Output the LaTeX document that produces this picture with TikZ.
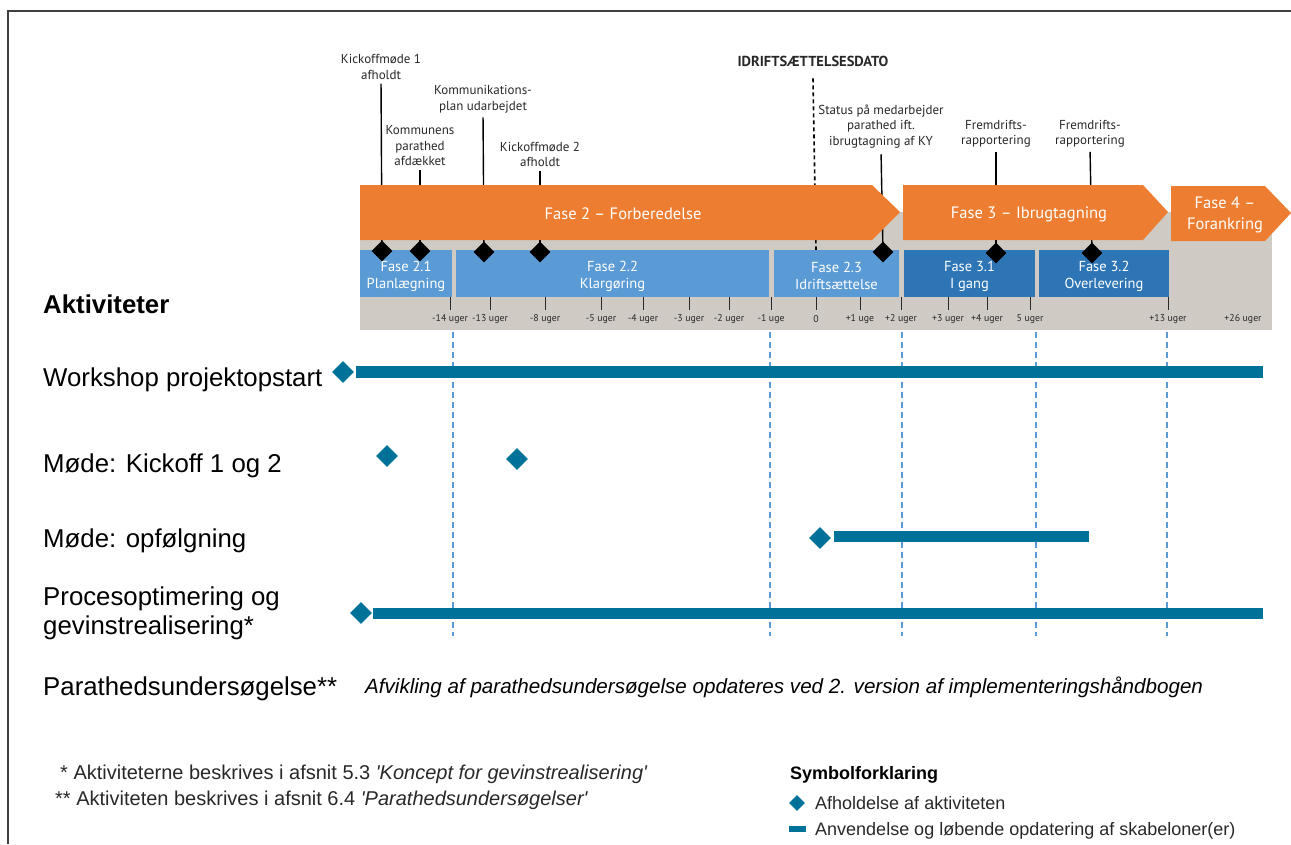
\documentclass[tikz,border=0pt]{standalone}
\usepackage{fontspec}
\setmainfont{Liberation Sans}
\newfontfamily\tlfont{PT Sans}
\usetikzlibrary{shapes.geometric}

\definecolor{phaseorange}{RGB}{237,125,49}
\definecolor{sublight}{RGB}{91,155,213}
\definecolor{subdark}{RGB}{46,117,182}
\definecolor{bandgray}{RGB}{207,202,196}
\definecolor{actcolor}{RGB}{0,114,153}
\definecolor{labelgray}{RGB}{40,40,40}
\definecolor{framegray}{RGB}{64,64,64}
\definecolor{guideblue}{RGB}{91,155,213}

\tikzset{
  phasearrow/.style={fill=phaseorange},
  phasetext/.style={font=\tlfont\fontsize{16.5}{21}\selectfont, text=white, align=center, inner sep=0},
  subbox/.style={fill=#1, minimum height=47pt, inner sep=0},
  subtext/.style={text=white, align=center, inner sep=0, font=\tlfont\fontsize{14.5}{17}\selectfont},
  milestone/.style={diamond, fill=black, inner sep=0, minimum width=21pt, minimum height=21pt},
  msline/.style={draw=black, line width=1.4pt, shorten <=4pt},
  mslabel/.style={font=\tlfont\fontsize{13}{15.5}\selectfont, text=labelgray, align=center, inner sep=0},
  tickmark/.style={draw=labelgray, line width=1pt},
  ticklabel/.style={font=\tlfont\fontsize{9.8}{11}\selectfont, text=labelgray, inner sep=0},
  guide/.style={draw=guideblue, line width=1.2pt, dash pattern=on 6pt off 4pt},
  datemark/.style={draw=black, line width=1.6pt, dash pattern=on 4pt off 3pt},
  actlabel/.style={font=\fontsize{25.8}{29}\selectfont, anchor=base west, align=left, inner sep=0},
  actmark/.style={diamond, fill=actcolor, inner sep=0, minimum width=22pt, minimum height=22pt},
  actbar/.style={fill=actcolor},
  notetext/.style={font=\fontsize{20}{24}\selectfont, anchor=base west, inner sep=0, text=labelgray},
  legendtext/.style={font=\fontsize{18}{22}\selectfont, anchor=base west, inner sep=0, text=labelgray},
}

\begin{document}
\begin{tikzpicture}[x=1pt, y=-1pt]
\useasboundingbox (0,0) rectangle (1291,844);

% frame
\draw[framegray, line width=2pt] (8,844) -- (8,11) -- (1291,11);

% gray timeline band
\fill[bandgray] (360,212) rectangle (1272,330);

% milestone labels
\node[mslabel] (l1) at (381,67) {Kickoffmøde 1\\afholdt};
\node[mslabel] (l2) at (420,146) {Kommunens\\parathed\\afdækket};
\node[mslabel] (l3) at (483,99.5) {Kommunikations-\\plan udarbejdet};
\node[mslabel] (l4) at (540,154.5) {Kickoffmøde 2\\afholdt};
\node[mslabel, font=\tlfont\bfseries\fontsize{14.5}{15}\selectfont] (ld) at (813,61) {IDRIFTSÆTTELSESDATO};
\node[mslabel] (l6) at (996,134) {Fremdrifts-\\rapportering};
\node[mslabel] (l7) at (1090,134) {Fremdrifts-\\rapportering};

% milestone diamonds positions
\coordinate (c1) at (382,251);
\coordinate (c2) at (420,251);
\coordinate (c3) at (484,252);
\coordinate (c4) at (540,252);
\coordinate (c5) at (883,252);
\coordinate (c6) at (996,253);
\coordinate (c7) at (1092,253);
\coordinate (dz) at (816,250);

% date line (behind the status label and the phase arrow)
\draw[datemark] ([yshift=-12pt]ld.south) -- (dz);
\node[mslabel, fill=white, inner sep=2pt] (l5) at (881,126.5) {Status på medarbejder\\parathed ift.\\ibrugtagning af KY};

% connectors from labels to milestones
\draw[msline] (l1.south) -- (c1);
\draw[msline] (l2.south) -- (c2);
\draw[msline] (l3.south) -- (c3);
\draw[msline] (l4.south) -- (c4);
\draw[msline] (l5.south) -- (c5);
\draw[msline] (l6.south) -- (c6);
\draw[msline] (l7.south) -- (c7);

% phase arrows
\fill[phasearrow] (360,185) -- (872,185) -- (900,212) -- (872,240) -- (360,240) -- cycle;
\fill[phasearrow] (903,185) -- (1143,185) -- (1168,212) -- (1143,240) -- (903,240) -- cycle;
\fill[phasearrow] (1171,186) -- (1265,186) -- (1291,213) -- (1265,241) -- (1171,241) -- cycle;
\node[phasetext] (f2) at (623,214) {Fase 2 – Forberedelse};
\node[phasetext] (f3) at (1029,214) {Fase 3 – Ibrugtagning};
\node[phasetext] (f4) at (1225,215) {Fase 4 –\\Forankring};

% sub phases
\node[subbox=sublight, minimum width=92pt]  (p21) at (406,273.5)   {};
\node[subbox=sublight, minimum width=313pt] (p22) at (612.5,273.5) {};
\node[subbox=sublight, minimum width=125pt] (p23) at (836.5,273.5) {};
\node[subbox=subdark,  minimum width=131pt] (p31) at (969.5,273.5) {};
\node[subbox=subdark,  minimum width=130pt] (p32) at (1104,273.5)  {};
\node[subtext] (t21) at ([yshift=-2.5pt]p21.center) {Fase 2.1\\Planlægning};
\node[subtext] (t22) at ([yshift=-2.5pt]p22.center) {Fase 2.2\\Klargøring};
\node[subtext] (t23) at ([yshift=-2.5pt]p23.center) {Fase 2.3\\Idriftsættelse};
\node[subtext] (t31) at ([yshift=-2.5pt]p31.center) {Fase 3.1\\I gang};
\node[subtext] (t32) at ([yshift=-2.5pt]p32.center) {Fase 3.2\\Overlevering};

% milestone diamonds
\foreach \c in {c1,c2,c3,c4,c5,c6,c7} \node[milestone] (m\c) at (\c) {};

% week scale
\foreach \x/\t in {450/-14 uger, 490/-13 uger, 545/-8 uger, 601/-5 uger, 643/-4 uger,
                   689/-3 uger, 729/-2 uger, 771/-1 uge, 816/0, 860/+1 uge, 901/+2 uger,
                   948/+3 uger, 987/+4 uger, 1030/5 uger, 1168/+13 uger} {
  \draw[tickmark] (\x,297) -- (\x,310);
  \node[ticklabel] at (\x,319) {\t};
}
\node[ticklabel] at (1243,319) {+26 uger};

% phase boundary guides
\foreach \x in {453,770,902,1036,1167} \draw[guide] (\x,332) -- (\x,636);

% activities
\node[actlabel, font=\bfseries\fontsize{25.8}{29}\selectfont] (akt) at (43,313) {Aktiviteter};
\node[actlabel] (a1) at (43,386) {Workshop projektopstart};
\node[actlabel] (a2) at (43,472) {Møde: Kickoff 1 og 2};
\node[actlabel] (a3) at (43,547) {Møde: opfølgning};
\node[actlabel, anchor=west] (a4) at (43,613) {Procesoptimering og\\gevinstrealisering*};
\node[actlabel] (a5) at (43,695) {Parathedsundersøgelse**};
\node[actlabel, font=\itshape\fontsize{20.6}{24}\selectfont] (a5n) at (365,693)
  {Afvikling af parathedsundersøgelse opdateres ved 2. version af implementeringshåndbogen};

\fill[actbar] (356,366) rectangle (1263,378);
\node[actmark] (w1) at (343,372) {};
\node[actmark] (k1) at (387,456) {};
\node[actmark] (k2) at (517,459) {};
\fill[actbar] (834,531) rectangle (1089,542);
\node[actmark] (o1) at (820,538) {};
\fill[actbar] (373,608) rectangle (1263,619);
\node[actmark] (g1) at (361,613) {};

% footnotes
\node[notetext] (n1) at (60,779) {* Aktiviteterne beskrives i afsnit 5.3 \textit{\textquotesingle Koncept for gevinstrealisering\textquotesingle}};
\node[notetext] (n2) at (55,805) {** Aktiviteten beskrives i afsnit 6.4 \textit{\textquotesingle Parathedsundersøgelser\textquotesingle}};

% legend
\node[legendtext, font=\bfseries\fontsize{18}{22}\selectfont, text=black] (lg) at (790,779) {Symbolforklaring};
\node[actmark, minimum width=16pt, minimum height=16pt] (lgd) at (797,803) {};
\node[legendtext] (lg1) at (815,809) {Afholdelse af aktiviteten};
\fill[actbar] (789,826) rectangle (806,832);
\node[legendtext] (lg2) at (815,835) {Anvendelse og løbende opdatering af skabeloner(er)};
\end{tikzpicture}
\end{document}
